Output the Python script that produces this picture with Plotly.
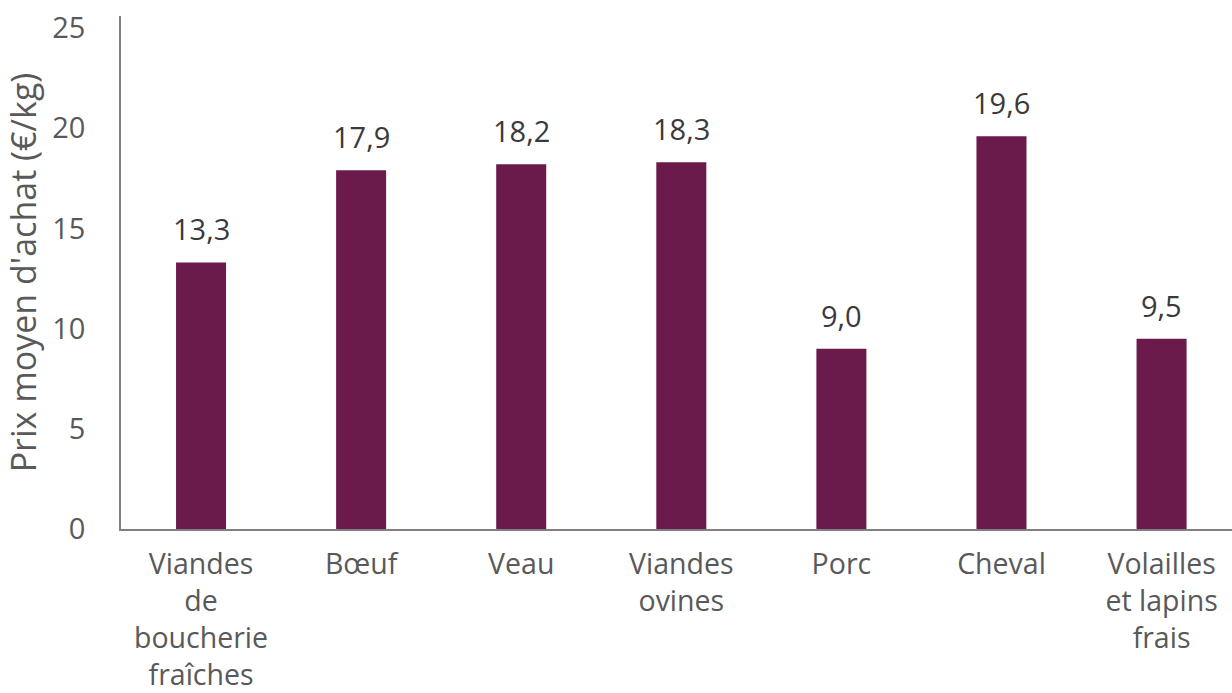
import plotly.graph_objects as go

categories = [
    "Viandes<br>de<br>boucherie<br>fraîches",
    "Bœuf",
    "Veau",
    "Viandes<br>ovines",
    "Porc",
    "Cheval",
    "Volailles<br>et lapins<br>frais",
]
prix = [13.3, 17.9, 18.2, 18.3, 9.0, 19.6, 9.5]
y_ticks = [0, 5, 10, 15, 20, 25]

FONT = "'Open Sans', sans-serif"
BAR_COLOR = "#6B1B4B"
AXIS_COLOR = "#808080"

fig = go.Figure(
    go.Bar(
        x=list(range(len(categories))),
        y=prix,
        marker=dict(color=BAR_COLOR, line=dict(width=0)),
        width=0.3125,
        hoverinfo="skip",
    )
)

# value labels above each bar
for i, v in enumerate(prix):
    fig.add_annotation(
        x=i, y=v, text=f"{v:.1f}".replace(".", ","),
        showarrow=False, yanchor="bottom", yshift=12,
        font=dict(family=FONT, size=29, color="#3a3a3a"),
    )

fig.update_layout(
    width=1232, height=693,
    margin=dict(l=121, r=0, t=16, b=164),
    paper_bgcolor="white", plot_bgcolor="white",
    showlegend=False,
    font=dict(family=FONT, size=28, color="#595959"),
    xaxis=dict(
        range=[-0.5, 6.44],
        tickmode="array",
        tickvals=list(range(len(categories))),
        ticktext=categories,
        showgrid=False, zeroline=False,
        showline=True, linecolor=AXIS_COLOR, linewidth=1.5,
        ticks="", ticklabelstandoff=9, automargin=False,
        tickfont=dict(family=FONT, size=28.5, color="#595959"),
    ),
    yaxis=dict(
        range=[0, 25.6],
        tickmode="array",
        tickvals=y_ticks,
        showgrid=False, zeroline=False,
        showline=True, linecolor=AXIS_COLOR, linewidth=1.5,
        ticks="", ticklabelstandoff=28, automargin=False,
        tickfont=dict(family=FONT, size=29, color="#595959"),
        title=dict(text="Prix moyen d'achat (€/kg)", standoff=16,
                   font=dict(family=FONT, size=34, color="#595959")),
    ),
)

fig.write_html("out.html")
